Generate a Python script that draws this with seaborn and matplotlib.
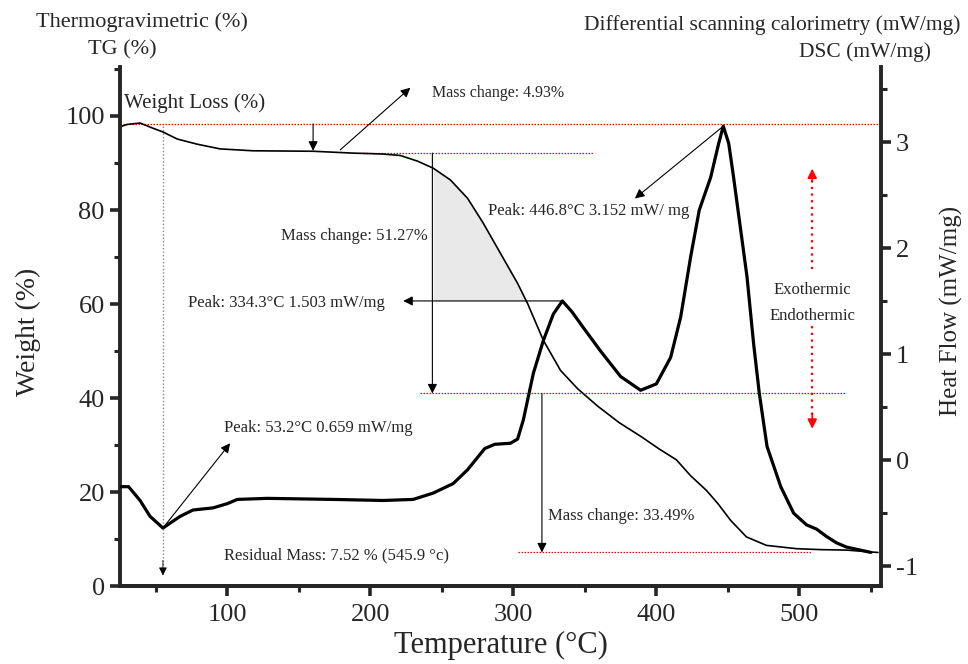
import numpy as np
import pandas as pd
import matplotlib
matplotlib.use("Agg")
import matplotlib.pyplot as plt
from matplotlib.ticker import MultipleLocator
import seaborn as sns

# ---------------- data ----------------
tg_temp = [25, 30, 39, 48, 55, 65, 79, 95, 118, 160, 188, 200, 209, 221, 233, 244,
           256, 268, 279, 291, 303, 310, 321, 333, 345, 359, 374, 389, 402, 414, 424,
           435, 443, 452, 463, 477, 498, 515, 533, 550, 555]
tg_weight = [97.7, 98.2, 98.5, 97.4, 96.6, 95.1, 94.0, 93.0, 92.6, 92.5, 92.1, 92.0,
             91.9, 91.6, 90.4, 88.9, 86.4, 82.5, 77.2, 70.8, 64.4, 60.1, 52.3, 45.9,
             42.0, 38.3, 34.8, 31.9, 29.2, 26.9, 23.5, 20.4, 17.6, 14.0, 10.5, 8.7,
             8.0, 7.8, 7.7, 7.3, 7.2]

dsc_temp = [26, 31, 39, 46, 55, 67, 76, 90, 100, 107, 128, 174, 209, 230, 244, 258, 268,
            280, 287, 298, 303, 307, 314, 321, 328, 334.3, 341, 349, 361, 375, 389, 400,
            410, 417, 424, 430, 438, 443.6, 446.8, 450.6, 454, 458.7, 463.4, 468, 472,
            477.4, 487, 496, 505, 512, 519, 526, 533, 550]
dsc_val = [-0.25, -0.25, -0.38, -0.53, -0.64, -0.53, -0.47, -0.45, -0.41, -0.37, -0.36,
           -0.37, -0.38, -0.37, -0.31, -0.22, -0.09, 0.11, 0.15, 0.16, 0.20, 0.38, 0.82,
           1.13, 1.38, 1.503, 1.40, 1.25, 1.03, 0.79, 0.66, 0.72, 0.97, 1.35, 1.92, 2.36,
           2.67, 2.99, 3.152, 2.99, 2.67, 2.20, 1.73, 1.10, 0.63, 0.13, -0.25, -0.50,
           -0.61, -0.65, -0.72, -0.78, -0.82, -0.87]

# reference levels (weight %) and events
level_start = 98.3
level_step1 = 92.1
level_step2 = 41.0
level_residual = 7.2
level_shade = 60.6
t_step1 = 243.4
t_step2 = 320.0
t_loss1 = 160.0
t_exo = 509.0
t_min1 = 55.0

x_ticks = [100, 200, 300, 400, 500]
left_ticks = [0, 20, 40, 60, 80, 100]
right_ticks = [-1, 0, 1, 2, 3]

# ---------------- style ----------------
sns.set_style("ticks")
plt.rcParams['font.family'] = ['Liberation Serif', 'DejaVu Serif']
plt.rcParams['axes.unicode_minus'] = False

fig = plt.figure(figsize=(9.68, 6.64), dpi=100)
ax = fig.add_axes([0.124, 0.117, 0.786, 0.782])
ax2 = ax.twinx()

tg_df = pd.DataFrame({"Temperature": tg_temp, "Weight": tg_weight})
dsc_df = pd.DataFrame({"Temperature": dsc_temp, "DSC": dsc_val})

sns.lineplot(data=tg_df, x="Temperature", y="Weight", ax=ax, color="black",
             lw=1.2, sort=False, estimator=None)
sns.lineplot(data=dsc_df, x="Temperature", y="DSC", ax=ax2, color="black",
             lw=2.3, sort=False, estimator=None)

ax.set_xlim(25, 557)
ax.set_ylim(0, 110.4)
ax2.set_ylim(-1.19, 3.71)

# shaded region
T = np.array(tg_temp, dtype=float)
W = np.array(tg_weight, dtype=float)
ax.fill_between(T, level_shade, W, where=(T >= t_step1 - 1) & (W >= level_shade - 1),
                interpolate=True, color="#e9e9e9", zorder=0.5, lw=0)

# axes styling
for a in (ax, ax2):
    a.spines['top'].set_visible(False)
    for s in a.spines.values():
        s.set_linewidth(2.8)
ax.spines['right'].set_visible(False)
ax2.spines['left'].set_visible(False)

ax.set_xticks(x_ticks)
ax.set_yticks(left_ticks)
ax2.set_yticks(right_ticks)
ax.xaxis.set_minor_locator(MultipleLocator(50))
ax.yaxis.set_minor_locator(MultipleLocator(10))
ax2.yaxis.set_minor_locator(MultipleLocator(0.5))
for a in (ax, ax2):
    a.tick_params(which='major', direction='out', length=7, width=2.6, labelsize=19, pad=4)
    a.tick_params(which='minor', direction='out', length=4, width=2.2)
ax.tick_params(axis='x', pad=6)

ax.set_xlabel("Temperature (°C)", fontsize=22)
ax.xaxis.label.set_va('center')
ax.xaxis.set_label_coords(0.5, -0.113)
ax.set_ylabel("Weight (%)", fontsize=20)
ax.yaxis.label.set_va('center')
ax.yaxis.label.set_ha('center')
ax.yaxis.set_label_coords(-0.121, 0.49)
ax2.set_ylabel("Heat Flow (mW/mg)", fontsize=18, rotation=90)
ax2.yaxis.label.set_va('center')
ax2.yaxis.label.set_ha('center')
ax2.yaxis.set_label_coords(1.093, 0.53)

# top titles
fig.text(0.037, 0.967, "Thermogravimetric (%)", fontsize=16, ha='left', va='center')
fig.text(0.091, 0.925, "TG (%)", fontsize=16, ha='left', va='center')
fig.text(0.992, 0.962, "Differential scanning calorimetry (mW/mg)", fontsize=15.5,
         ha='right', va='center')
fig.text(0.962, 0.922, "DSC (mW/mg)", fontsize=15.5, ha='right', va='center')

# red dotted reference lines
red_kw = dict(color='red', lw=0.9, ls=(0, (1.2, 1.2)), zorder=1)
ax.plot([25, 557], [level_start, level_start], **red_kw)
ax.plot([195, 356], [level_step1, level_step1], **red_kw)
ax.plot([235, 532], [level_step2, level_step2], **red_kw)
ax.plot([303, 509], [level_residual, level_residual], **red_kw)

arrow_k = dict(arrowstyle='-|>', color='black', lw=0.8, mutation_scale=14,
               shrinkA=0, shrinkB=0)

# weight loss small arrow
ax.annotate('', xy=(t_loss1, 92.6), xytext=(t_loss1, level_start), arrowprops=arrow_k)
ax.text(28, 102.8, "Weight Loss (%)", fontsize=15, ha='left', va='center')

# mass change 4.93%
ax.annotate('', xy=(228, 106), xytext=(179, 92.8), arrowprops=arrow_k)
ax.text(243.4, 104.9, "Mass change: 4.93%", fontsize=11.5, ha='left', va='center')

# mass change 51.27%
ax.annotate('', xy=(t_step1, level_step2), xytext=(t_step1, level_step1), arrowprops=arrow_k)
ax.text(240, 74.5, "Mass change: 51.27%", fontsize=12, ha='right', va='center')

# mass change 33.49%
ax.annotate('', xy=(t_step2, level_residual), xytext=(t_step2, level_step2), arrowprops=arrow_k)
ax.text(324, 14.9, "Mass change: 33.49%", fontsize=12, ha='left', va='center')

ax.text(98, 6.6, "Residual Mass: 7.52 % (545.9 °c)", fontsize=12, ha='left', va='center')

# grey dotted vertical line at first DSC minimum
ax.plot([t_min1, t_min1], [97.8, 4.5], color='#888888', lw=1.0, ls=(0, (1, 1.5)), zorder=1)
ax.annotate('', xy=(t_min1, 2.3), xytext=(t_min1, 5.5),
            arrowprops=dict(arrowstyle='-|>', color='black', lw=0.6, mutation_scale=12,
                            shrinkA=0, shrinkB=0))

# exo / endo indicator
red_dot = dict(color='red', lw=1.6, ls=(0, (1, 2)), zorder=1)
ax.plot([t_exo, t_exo], [67.5, 86.5], **red_dot)
ax.plot([t_exo, t_exo], [36.5, 56.0], **red_dot)
red_head = dict(arrowstyle='-|>', color='red', lw=1.2, mutation_scale=14, shrinkA=0, shrinkB=0)
ax.annotate('', xy=(t_exo, 88.8), xytext=(t_exo, 86.0), arrowprops=red_head)
ax.annotate('', xy=(t_exo, 33.5), xytext=(t_exo, 36.8), arrowprops=red_head)
ax.text(t_exo, 63.0, "Exothermic", fontsize=12, ha='center', va='center')
ax.text(t_exo, 57.4, "Endothermic", fontsize=12, ha='center', va='center')

# DSC peak annotations
i_min = int(np.argmin(dsc_val[:10]))
p1 = int(np.argmax(dsc_val[:30]))
p2 = int(np.argmax(dsc_val))
ax2.annotate('', xy=(102, 0.16), xytext=(dsc_temp[i_min], dsc_val[i_min]), arrowprops=arrow_k)
ax.text(98, 33.6, "Peak: 53.2°C 0.659 mW/mg", fontsize=12, ha='left', va='center')

ax2.annotate('', xy=(223, dsc_val[p1]), xytext=(dsc_temp[p1], dsc_val[p1]), arrowprops=arrow_k)
ax.text(72.5, 60.2, "Peak: 334.3°C 1.503 mW/mg", fontsize=12, ha='left', va='center')

ax2.annotate('', xy=(385, 2.47), xytext=(dsc_temp[p2], dsc_val[p2]), arrowprops=arrow_k)
ax.text(282, 79.8, "Peak: 446.8°C 3.152 mW/ mg", fontsize=12, ha='left', va='center')

fig.savefig("out.png", dpi=100)
